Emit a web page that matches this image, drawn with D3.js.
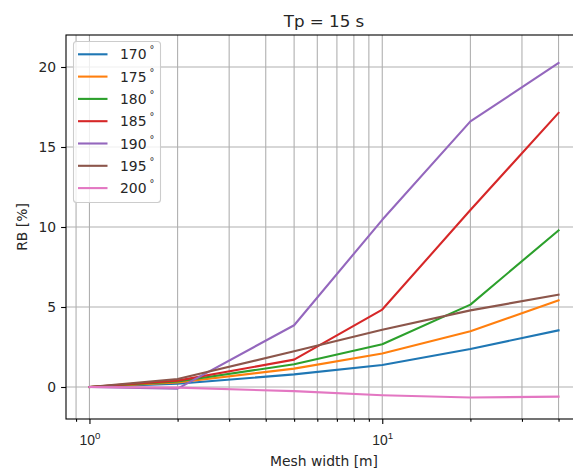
<!DOCTYPE html>
<html>
<head>
<meta charset="utf-8">
<script src="https://cdn.jsdelivr.net/npm/d3@7"></script>
<style>
  html, body { margin: 0; padding: 0; background: #fff; }
  svg { display: block; font-family: "DejaVu Sans", sans-serif; }
</style>
</head>
<body>
<svg id="chart" width="573" height="470"></svg>
<script>
// Mesh widths (m) on a log axis
const meshWidths = [1, 2, 5, 10, 20, 40];

// Wave directions and their relative bias RB (%)
const directions = ["170", "175", "180", "185", "190", "195", "200"];
const rb170 = [0, 0.20, 0.79, 1.38, 2.38, 3.54];
const rb175 = [0, 0.28, 1.15, 2.09, 3.48, 5.42];
const rb180 = [0, 0.34, 1.42, 2.67, 5.15, 9.79];
const rb185 = [0, 0.40, 1.71, 4.84, 11.06, 17.13];
const rb190 = [0, -0.10, 3.86, 10.45, 16.6, 20.25];
const rb195 = [0, 0.50, 2.23, 3.58, 4.79, 5.77];
const rb200 = [0, -0.04, -0.26, -0.52, -0.66, -0.60];
const seriesValues = [rb170, rb175, rb180, rb185, rb190, rb195, rb200];

const colors = ["#1f77b4", "#ff7f0e", "#2ca02c", "#d62728", "#9467bd", "#8c564b", "#e377c2"];
const yTicks = [0, 5, 10, 15, 20];
const xMajorTicks = [1, 10];
const xMinorTicks = [0.9, 2, 3, 4, 5, 6, 7, 8, 9, 20, 30, 40];

const svg = d3.select("#chart");
const plot = { left: 66, right: 582, top: 35, bottom: 419 };

// log-space padding of 5% on each side of the data range
const lmin = Math.log10(d3.min(meshWidths)), lmax = Math.log10(d3.max(meshWidths));
const pad = (lmax - lmin) * 0.05;
const x = d3.scaleLog()
  .domain([Math.pow(10, lmin - pad), Math.pow(10, lmax + pad)])
  .range([plot.left, plot.right]);
const y = d3.scaleLinear().domain([-2, 22]).range([plot.bottom, plot.top]);

const gridColor = "#b0b0b0";
const textColor = "#262626";

svg.append("defs").append("clipPath").attr("id", "plotclip")
  .append("rect")
  .attr("x", plot.left).attr("y", plot.top)
  .attr("width", plot.right - plot.left).attr("height", plot.bottom - plot.top);

// grid
const grid = svg.append("g").attr("stroke", gridColor).attr("stroke-width", 1.1);
grid.selectAll("line.vx").data(xMajorTicks.concat(xMinorTicks)).join("line")
  .attr("x1", d => x(d)).attr("x2", d => x(d))
  .attr("y1", plot.top).attr("y2", plot.bottom);
grid.selectAll("line.hy").data(yTicks).join("line")
  .attr("x1", plot.left).attr("x2", plot.right)
  .attr("y1", d => y(d)).attr("y2", d => y(d));

// series lines
const line = d3.line().x((d, i) => x(meshWidths[i])).y(d => y(d));
svg.append("g").attr("clip-path", "url(#plotclip)")
  .selectAll("path").data(seriesValues).join("path")
  .attr("d", d => line(d))
  .attr("fill", "none")
  .attr("stroke", (d, i) => colors[i])
  .attr("stroke-width", 2.1)
  .attr("stroke-linejoin", "round")
  .attr("stroke-linecap", "square");

// axes via d3 axis generators
const xAxisMajor = d3.axisBottom(x).tickValues(xMajorTicks).tickSize(4.9).tickPadding(4.9).tickFormat("");
const xAxisMinor = d3.axisBottom(x).tickValues(xMinorTicks).tickSize(2.8).tickFormat("");
const yAxis = d3.axisLeft(y).tickValues(yTicks).tickSize(4.9).tickPadding(4.9).tickFormat(d3.format("d"));

const gx = svg.append("g").attr("transform", `translate(0,${plot.bottom})`).call(xAxisMajor);
const gxm = svg.append("g").attr("transform", `translate(0,${plot.bottom})`).call(xAxisMinor);
[gx, gxm].forEach(g => {
  g.select(".domain").remove();
  g.selectAll(".tick line").attr("stroke", "#000").attr("stroke-width", 1.1);
});

// x tick labels as powers of ten
gx.selectAll(".tick").each(function (d) {
  const t = d3.select(this).select("text")
    .attr("fill", textColor).attr("font-size", 13.9).attr("y", 0).attr("dy", null)
    .attr("transform", "translate(0,26)").attr("text-anchor", "middle");
  t.text(null);
  t.append("tspan").text("10");
  t.append("tspan").attr("font-size", 9.7).attr("dy", -6).text(String(Math.round(Math.log10(d))));
});

const gy = svg.append("g").attr("transform", `translate(${plot.left},0)`).call(yAxis);
gy.select(".domain").remove();
gy.selectAll(".tick line").attr("stroke", "#000").attr("stroke-width", 1.1);
gy.selectAll(".tick text").attr("fill", textColor).attr("font-size", 13.9)
  .attr("font-family", "DejaVu Sans, sans-serif");

// frame
svg.append("rect")
  .attr("x", plot.left).attr("y", plot.top)
  .attr("width", plot.right - plot.left).attr("height", plot.bottom - plot.top)
  .attr("fill", "none").attr("stroke", "#000").attr("stroke-width", 1.1);

// title and axis labels
svg.append("text").attr("x", (plot.left + plot.right) / 2).attr("y", 27)
  .attr("text-anchor", "middle").attr("font-size", 16.7).attr("fill", textColor)
  .text("Tp = 15 s");
svg.append("text").attr("x", (plot.left + plot.right) / 2).attr("y", 466)
  .attr("text-anchor", "middle").attr("font-size", 13.9).attr("fill", textColor)
  .text("Mesh width [m]");
svg.append("text")
  .attr("transform", `translate(27,${(plot.top + plot.bottom) / 2}) rotate(-90)`)
  .attr("text-anchor", "middle").attr("font-size", 13.9).attr("fill", textColor)
  .text("RB [%]");

// legend
const legend = svg.append("g");
legend.append("rect")
  .attr("x", 73.5).attr("y", 41.5).attr("width", 87).attr("height", 161)
  .attr("rx", 3).attr("fill", "#fff").attr("fill-opacity", 0.8)
  .attr("stroke", "#cccccc").attr("stroke-width", 1.1);
const rowH = 22.3;
const items = legend.selectAll("g.item").data(directions).join("g")
  .attr("transform", (d, i) => `translate(0,${54.3 + i * rowH})`);
items.append("line")
  .attr("x1", 78).attr("x2", 107.5).attr("y1", 0).attr("y2", 0)
  .attr("stroke", (d, i) => colors[i]).attr("stroke-width", 2.1);
const lt = items.append("text").attr("x", 120).attr("y", 5)
  .attr("font-size", 13.9).attr("fill", textColor);
lt.append("tspan").text(d => d);
lt.append("tspan").attr("font-size", 9.7).attr("dx", 3).attr("dy", -6).text("°");
</script>
</body>
</html>
